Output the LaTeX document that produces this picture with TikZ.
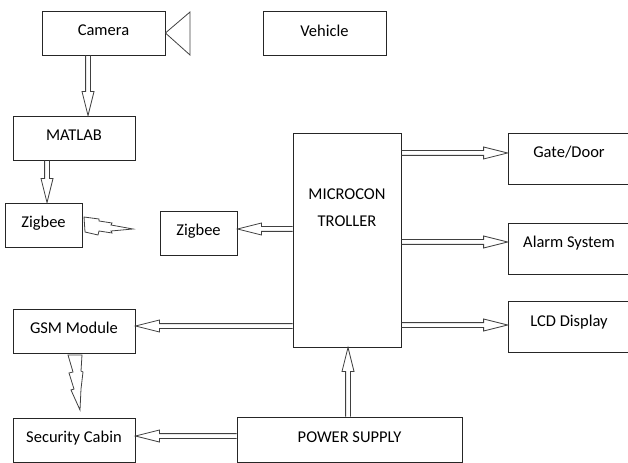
\documentclass[tikz,border=0pt]{standalone}
\usepackage{fontspec}
\setmainfont{Carlito}
\usetikzlibrary{calc}

\begin{document}
\begin{tikzpicture}[x=1bp, y=-1bp,
        box/.style={draw=black!85, line width=0.8bp, minimum height=44bp, inner sep=0pt,
            font=\fontsize{16.5bp}{19bp}\selectfont, text height=11bp, text depth=5.5bp},
        sidebox/.style={box, minimum width=122bp, minimum height=51bp, text depth=13bp},
        hollow/.style={draw=black!75, line width=0.8bp, line join=miter, to path={
            ($(\tikztostart)!2.4bp!90:(\tikztotarget)$)
            -- ($(\tikztotarget)!24bp!(\tikztostart)!2.4bp!-90:(\tikztostart)$)
            -- ($(\tikztotarget)!24bp!(\tikztostart)!6bp!-90:(\tikztostart)$)
            -- (\tikztotarget)
            -- ($(\tikztotarget)!24bp!(\tikztostart)!6bp!90:(\tikztostart)$)
            -- ($(\tikztotarget)!24bp!(\tikztostart)!2.4bp!90:(\tikztostart)$)
            -- ($(\tikztostart)!2.4bp!-90:(\tikztotarget)$)}},
        bolt/.style={draw=black!75, line width=0.8bp, line join=miter},
        ]
                \clip (0,0) rectangle (628,463);
                \useasboundingbox (0,0) rectangle (628,463);

                \node[box, minimum width=123bp] at(103.5,33) (cam) {Camera};
                \draw[draw=black!75, line width=0.8bp] (cam.east) -- (190,12) -- (190,55) -- cycle;
                \node[box, minimum width=123bp] at(324.5,33.5) (veh) {Vehicle};
                \node[box, minimum width=122bp] at(74,138) (mat) {MATLAB};
                \node[box, minimum width=77bp] at(43.5,225) (zigA) {Zigbee};
                \node[box, minimum width=77bp] at(198.5,233) (zigB) {Zigbee};
                \node[box, minimum width=108bp, minimum height=214bp] at(347,240) (mcu) {};
                \node[font=\fontsize{16.5bp}{27bp}\selectfont, align=center] at(347,208) (mcutxt) {MICROCON\\TROLLER};
                \node[sidebox] at(569,158.5) (gate) {Gate/Door};
                \node[sidebox] at(569,248.5) (alarm) {Alarm System};
                \node[sidebox] at(569,327) (lcd) {LCD Display};
                \node[box, minimum width=122bp] at(74,331) (gsm) {GSM Module};
                \node[box, minimum width=122bp] at(74,440) (sec) {Security Cabin};
                \node[box, minimum width=225bp, minimum height=45bp] at(349.5,439.5) (pow) {POWER SUPPLY};

                % arrow ends on the boxes
                \coordinate (camout) at ([xshift=-15.5bp]cam.south);
                \coordinate (matin) at ([xshift=14bp]mat.north);
                \coordinate (matout) at ([xshift=-27bp]mat.south);
                \coordinate (zigAin) at ([xshift=3.5bp]zigA.north);
                \coordinate (mcuzig) at ([yshift=11bp]mcu.west);
                \coordinate (zigBin) at ([yshift=4bp]zigB.east);
                \coordinate (mcugate) at ([yshift=87bp]mcu.east);
                \coordinate (gatein) at ([yshift=5.5bp]gate.west);
                \coordinate (mcualarm) at ([yshift=-2bp]mcu.east);
                \coordinate (alarmin) at ([yshift=6.5bp]alarm.west);
                \coordinate (mculcd) at ([yshift=-85bp]mcu.east);
                \coordinate (lcdin) at ([yshift=2bp]lcd.west);
                \coordinate (mcugsm) at ([yshift=-86bp]mcu.west);
                \coordinate (gsmin) at ([yshift=5bp]gsm.east);
                \coordinate (powup) at ([xshift=-1.5bp]pow.north);
                \coordinate (mcuin) at ([xshift=1bp]mcu.south);
                \coordinate (powsec) at ([yshift=3.5bp]pow.west);
                \coordinate (secin) at ([yshift=4bp]sec.east);

                \draw[hollow] (camout) to (matin);
                \draw[hollow] (matout) to (zigAin);
                \draw[hollow] (mcuzig) to (zigBin);
                \draw[hollow] (mcugate) to (gatein);
                \draw[hollow] (mcualarm) to (alarmin);
                \draw[hollow] (mculcd) to (lcdin);
                \draw[hollow] (mcugsm) to (gsmin);
                \draw[hollow] (powup) to (mcuin);
                \draw[hollow] (powsec) to (secin);

                % wireless links
                \draw[bolt] (84,217) -- (99,219) -- (99,221) -- (112,223) -- (111,225) -- (133,229)
                        -- (111,231) -- (112,233) -- (99,231) -- (98,235) -- (85,232) -- cycle;
                \draw[bolt] (68,355) -- (82,355) -- (81,371) -- (83,372) -- (81,389) -- (80,410)
                        -- (71,390) -- (74,389) -- (69,373) -- (73,372) -- cycle;
                
            \end{tikzpicture}
\end{document}
